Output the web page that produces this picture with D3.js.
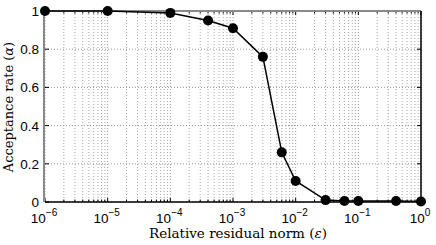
<!DOCTYPE html>
<html>
<head>
<meta charset="utf-8">
<script src="https://cdn.jsdelivr.net/npm/d3@7"></script>
<style>
  body { margin: 0; background: #fff; }
  svg { display: block; }
</style>
</head>
<body>
<script>
const epsilon = [1e-6, 1e-5, 1e-4, 4e-4, 1e-3, 3e-3, 6e-3, 1e-2, 3e-2, 6e-2, 1e-1, 4e-1, 1];
const alpha = [1.0, 1.0, 0.99, 0.95, 0.91, 0.76, 0.26, 0.11, 0.01, 0.005, 0.005, 0.005, 0.003];
const xTicks = [1e-6, 1e-5, 1e-4, 1e-3, 1e-2, 1e-1, 1];
const xExp = ["\u22126", "\u22125", "\u22124", "\u22123", "\u22122", "\u22121", "0"];
const yTicks = [0, 0.2, 0.4, 0.6, 0.8, 1];
const yLabels = ["0", "0.2", "0.4", "0.6", "0.8", "1"];

const w = 436;
const h = 245;
const pLeft = 45, pRight = 421, pTop = 11, pBottom = 202;

const svg = d3.select("body")
  .append("svg")
  .attr("width", w)
  .attr("height", h);

const x = d3.scaleLog().domain([1e-6, 1]).range([pLeft, pRight]);
const y = d3.scaleLinear().domain([0, 1]).range([pBottom, pTop]);

// minor ticks for the log axis
const minor = [];
for (let e = -6; e < 0; e++) {
  for (let k = 2; k <= 9; k++) minor.push(k * Math.pow(10, e));
}

// grid
svg.append("g").selectAll("line")
  .data(minor)
  .enter()
  .append("line")
  .attr("x1", d => x(d)).attr("x2", d => x(d))
  .attr("y1", pTop).attr("y2", pBottom)
  .attr("stroke", "#a8a8a8")
  .attr("stroke-width", 1)
  .attr("stroke-dasharray", "1,2");

svg.append("g").selectAll("line")
  .data(xTicks)
  .enter()
  .append("line")
  .attr("x1", d => x(d)).attr("x2", d => x(d))
  .attr("y1", pTop).attr("y2", pBottom)
  .attr("stroke", "#999")
  .attr("stroke-width", 1)
  .attr("stroke-dasharray", "1,2");

svg.append("g").selectAll("line")
  .data(yTicks)
  .enter()
  .append("line")
  .attr("x1", pLeft).attr("x2", pRight)
  .attr("y1", d => y(d)).attr("y2", d => y(d))
  .attr("stroke", "#999")
  .attr("stroke-width", 1)
  .attr("stroke-dasharray", "1,2");

// tick marks (inward, all four sides)
const tickG = svg.append("g").attr("stroke", "#000").attr("stroke-width", 1);
minor.forEach(d => {
  tickG.append("line").attr("x1", x(d)).attr("x2", x(d)).attr("y1", pBottom).attr("y2", pBottom - 2.5);
  tickG.append("line").attr("x1", x(d)).attr("x2", x(d)).attr("y1", pTop).attr("y2", pTop + 2.5);
});
xTicks.forEach(d => {
  tickG.append("line").attr("x1", x(d)).attr("x2", x(d)).attr("y1", pBottom).attr("y2", pBottom - 4);
  tickG.append("line").attr("x1", x(d)).attr("x2", x(d)).attr("y1", pTop).attr("y2", pTop + 4);
});
yTicks.forEach(d => {
  tickG.append("line").attr("x1", pLeft).attr("x2", pLeft + 4).attr("y1", y(d)).attr("y2", y(d));
  tickG.append("line").attr("x1", pRight).attr("x2", pRight - 4).attr("y1", y(d)).attr("y2", y(d));
});

// box
svg.append("line").attr("x1", pLeft).attr("x2", pRight).attr("y1", pTop).attr("y2", pTop)
  .attr("stroke", "#8a8a8a").attr("stroke-width", 2);
svg.append("line").attr("x1", pLeft - 1).attr("x2", pLeft - 1).attr("y1", pTop).attr("y2", pBottom)
  .attr("stroke", "#8a8a8a").attr("stroke-width", 2);
svg.append("line").attr("x1", pLeft).attr("x2", pRight + 0.5).attr("y1", pBottom).attr("y2", pBottom)
  .attr("stroke", "#000").attr("stroke-width", 1.5);
svg.append("line").attr("x1", pRight).attr("x2", pRight).attr("y1", pTop).attr("y2", pBottom)
  .attr("stroke", "#000").attr("stroke-width", 1.5);

// tick labels
const xl = svg.append("g").selectAll("text")
  .data(xTicks)
  .enter()
  .append("text")
  .attr("x", d => x(d) - 1)
  .attr("y", 223)
  .attr("text-anchor", "middle")
  .attr("font-family", "'Liberation Sans', Arial, sans-serif")
  .attr("font-size", 13.5)
  .attr("fill", "#000");
xl.append("tspan").text("10");
xl.append("tspan")
  .attr("dy", -7.5)
  .attr("font-size", 10)
  .text((d, i) => xExp[i]);

svg.append("g").selectAll("text")
  .data(yTicks)
  .enter()
  .append("text")
  .attr("x", 39)
  .attr("y", d => y(d) + 5)
  .attr("text-anchor", "end")
  .attr("font-family", "'Liberation Sans', Arial, sans-serif")
  .attr("font-size", 13.5)
  .attr("fill", "#000")
  .text((d, i) => yLabels[i]);

// axis titles
svg.append("text")
  .attr("x", 238)
  .attr("y", 238)
  .attr("text-anchor", "middle")
  .attr("font-family", "'DejaVu Serif', serif")
  .attr("font-size", 13.5)
  .attr("fill", "#000")
  .html("Relative residual norm (<tspan font-style='italic'>\u03B5</tspan>)");

svg.append("text")
  .attr("transform", "translate(13,107) rotate(-90)")
  .attr("text-anchor", "middle")
  .attr("font-family", "'DejaVu Serif', serif")
  .attr("font-size", 13)
  .attr("fill", "#000")
  .html("Acceptance rate (<tspan font-style='italic'>\u03B1</tspan>)");

// data line and markers
const pts = epsilon.map((e, i) => [e, alpha[i]]);
svg.append("path")
  .datum(pts)
  .attr("fill", "none")
  .attr("stroke", "#000")
  .attr("stroke-width", 1.5)
  .attr("d", d3.line().x(d => x(d[0])).y(d => y(d[1])));

svg.selectAll("circle")
  .data(pts)
  .enter()
  .append("circle")
  .attr("cx", d => x(d[0]))
  .attr("cy", d => y(d[1]))
  .attr("r", 5)
  .attr("fill", "#000");
</script>
</body>
</html>
